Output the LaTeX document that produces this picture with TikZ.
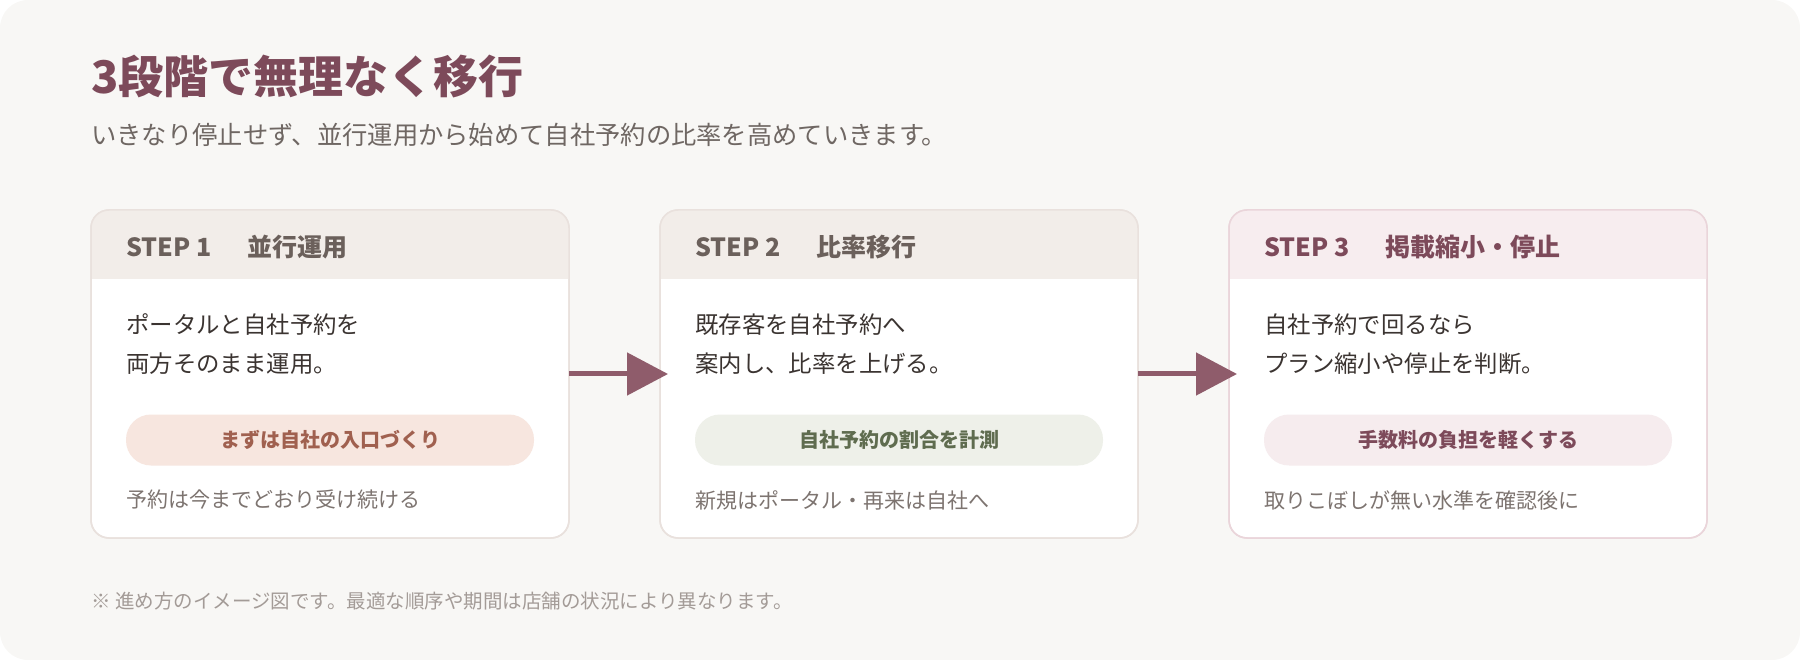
\documentclass[tikz,border=0pt]{standalone}
\usepackage{fontspec}
\setmainfont{Noto Sans CJK JP}
\usepackage{xcolor}
\usetikzlibrary{arrows.meta, positioning}

\definecolor{fondo}{HTML}{F8F7F5}
\definecolor{borde}{HTML}{E9E1DD}
\definecolor{bordero}{HTML}{EAD5DA}
\definecolor{cabeza}{HTML}{F2EDE9}
\definecolor{cabezaro}{HTML}{F7EDEF}
\definecolor{txtcab}{HTML}{6B605B}
\definecolor{malva}{HTML}{7D4A5A}
\definecolor{txtcuerpo}{HTML}{3B3431}
\definecolor{txtnota}{HTML}{7D7470}
\definecolor{pildora1}{HTML}{F7E6DF}
\definecolor{txtpil1}{HTML}{A0604F}
\definecolor{pildora2}{HTML}{EEF0E9}
\definecolor{txtpil2}{HTML}{5F6C4F}
\definecolor{pildora3}{HTML}{F6ECEE}
\definecolor{flechacol}{HTML}{8F5C6B}
\definecolor{subtit}{HTML}{6F6763}
\definecolor{pie}{HTML}{A39B97}

\begin{document}
\begin{tikzpicture}[
            x=1pt, y=-1pt,                     % 1 px de la imagen = 1 pt
            node distance=91pt,
            card/.style={
                rectangle,
                draw=borde,
                line width=1.5pt,
                fill=white,
                rounded corners=18pt,
                minimum width=478pt,
                minimum height=328pt,
                inner sep=0pt,
                outer sep=0pt
            },
            cardline/.style={
                draw=borde,
                line width=1.5pt,
                rounded corners=18pt
            },
            headtxt/.style={
                anchor=west,
                inner sep=0pt,
                text=txtcab,
                font=\fontsize{25}{30}\selectfont\bfseries
            },
            bodytxt/.style={
                anchor=west,
                inner sep=0pt,
                align=left,
                text=txtcuerpo,
                font=\fontsize{23.4}{39}\selectfont
            },
            pill/.style={
                rectangle,
                rounded corners=25pt,
                minimum width=408pt,
                minimum height=51pt,
                inner sep=0pt,
                font=\fontsize{20}{24}\selectfont\bfseries
            },
            notetxt/.style={
                anchor=west,
                inner sep=0pt,
                text=txtnota,
                font=\fontsize{21}{25}\selectfont
            },
            line/.style={
                draw=flechacol,
                line width=5pt,
                -{Triangle[length=41pt, width=42pt]}
            }
        ]
            \useasboundingbox (0,0) rectangle (1800,660);
            \fill[fondo, rounded corners=28pt] (0,0) rectangle (1800,660);

            % --- TITULO ---
            \node[anchor=west, inner sep=0pt, text=malva, font=\fontsize{45}{50}\selectfont\bfseries] (title) at (91,77) {3段階で無理なく移行};
            \node[anchor=west, inner sep=0pt, text=subtit, font=\fontsize{25.3}{30}\selectfont] (subtitle) at (91,135) {いきなり停止せず、並行運用から始めて自社予約の比率を高めていきます。};

            % --- TARJETAS ---
            \node[card] (s1) at (330,374) {};
            \node[card, right=of s1] (s2) {};
            \node[card, draw=bordero, right=of s2] (s3) {};

            \begin{scope}
                \clip[rounded corners=18pt] (s1.north west) rectangle (s1.south east);
                \fill[cabeza] (s1.north west) rectangle ([yshift=-69pt]s1.north east);
            \end{scope}
            \begin{scope}
                \clip[rounded corners=18pt] (s2.north west) rectangle (s2.south east);
                \fill[cabeza] (s2.north west) rectangle ([yshift=-69pt]s2.north east);
            \end{scope}
            \begin{scope}
                \clip[rounded corners=18pt] (s3.north west) rectangle (s3.south east);
                \fill[cabezaro] (s3.north west) rectangle ([yshift=-69pt]s3.north east);
            \end{scope}
            \path[cardline] (s1.north west) rectangle (s1.south east);
            \path[cardline] (s2.north west) rectangle (s2.south east);
            \path[cardline, draw=bordero] (s3.north west) rectangle (s3.south east);

            % --- STEP 1 ---
            \node[headtxt] (head1) at ([xshift=35pt, yshift=-37pt]s1.north west) {STEP 1\hspace{11pt}　並行運用};
            \node[bodytxt] (body1) at ([xshift=35pt, yshift=-134pt]s1.north west) {ポータルと自社予約を\\両方そのまま運用。};
            \node[pill, fill=pildora1, text=txtpil1] (pill1) at ([yshift=-230pt]s1.north) {まずは自社の入口づくり};
            \node[notetxt] (note1) at ([xshift=35pt, yshift=-290pt]s1.north west) {予約は今までどおり受け続ける};

            % --- STEP 2 ---
            \node[headtxt] (head2) at ([xshift=35pt, yshift=-37pt]s2.north west) {STEP 2\hspace{11pt}　比率移行};
            \node[bodytxt] (body2) at ([xshift=35pt, yshift=-134pt]s2.north west) {既存客を自社予約へ\\案内し、比率を上げる。};
            \node[pill, fill=pildora2, text=txtpil2] (pill2) at ([yshift=-230pt]s2.north) {自社予約の割合を計測};
            \node[notetxt] (note2) at ([xshift=35pt, yshift=-290pt]s2.north west) {新規はポータル・再来は自社へ};

            % --- STEP 3 ---
            \node[headtxt, text=malva] (head3) at ([xshift=35pt, yshift=-37pt]s3.north west) {STEP 3\hspace{11pt}　掲載縮小・停止};
            \node[bodytxt] (body3) at ([xshift=35pt, yshift=-134pt]s3.north west) {自社予約で回るなら\\プラン縮小や停止を判断。};
            \node[pill, fill=pildora3, text=malva] (pill3) at ([yshift=-230pt]s3.north) {手数料の負担を軽くする};
            \node[notetxt] (note3) at ([xshift=35pt, yshift=-290pt]s3.north west) {取りこぼしが無い水準を確認後に};

            % --- ENLACES ---
            \path[line] (s1.east) -- ([xshift=8pt]s2.west);
            \path[line] (s2.east) -- ([xshift=8pt]s3.west);

            % --- NOTA AL PIE ---
            \node[anchor=west, inner sep=0pt, text=pie, font=\fontsize{19.5}{24}\selectfont] (foot) at (91,601) {※ 進め方のイメージ図です。最適な順序や期間は店舗の状況により異なります。};
        \end{tikzpicture}
\end{document}
